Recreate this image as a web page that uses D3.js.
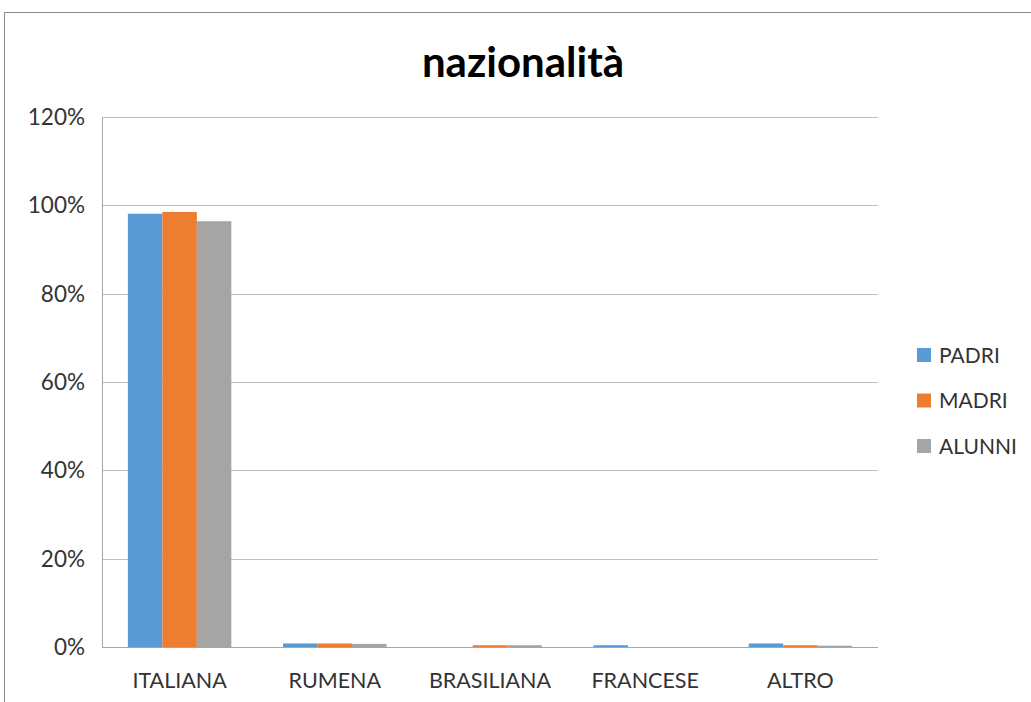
<!DOCTYPE html>
<html><head><meta charset="utf-8">
<script src="https://cdn.jsdelivr.net/npm/d3@7"></script>
<style>body{margin:0;background:#fff;}svg{display:block;}</style>
</head><body>
<svg id="c" width="1031" height="702"></svg>
<script>
const categories = ["ITALIANA","RUMENA","BRASILIANA","FRANCESE","ALTRO"];
const seriesNames = ["PADRI","MADRI","ALUNNI"];
const padri  = [98.1, 0.8, 0.0, 0.4, 0.8];
const madri  = [98.5, 0.8, 0.4, 0.0, 0.4];
const alunni = [96.4, 0.7, 0.4, 0.0, 0.3];
const yTicks = [0,20,40,60,80,100,120];
const colors = ["#5B9BD5","#ED7D31","#A5A5A5"];
const seriesValues = [padri, madri, alunni];
const font = "Lato, 'Open Sans', sans-serif";
const txt = "#333333";

const svg = d3.select("#c");
// outer chart border
svg.append("rect").attr("x",4.5).attr("y",12.5).attr("width",1040).attr("height",700)
  .attr("fill","none").attr("stroke","#8c8c8c").attr("stroke-width",1);

const pLeft=102, pRight=878, pTop=117, pBottom=647;
const x = d3.scaleBand().domain(categories).range([pLeft,pRight]);
const y = d3.scaleLinear().domain([0,120]).range([pBottom,pTop]);
const barW = x.bandwidth()/(3+1.5);
const xs = d3.scaleBand().domain(seriesNames).range([0,barW*3]);

// gridlines
svg.append("g").selectAll("line").data(yTicks).join("line")
  .attr("x1",pLeft).attr("x2",pRight)
  .attr("y1",d=>Math.round(y(d))+0.5).attr("y2",d=>Math.round(y(d))+0.5)
  .attr("stroke",d=>d===0?"#a6a6a6":"#bfbfbf").attr("stroke-width",1);
// left axis line
svg.append("line").attr("x1",pLeft+0.5).attr("x2",pLeft+0.5).attr("y1",pTop).attr("y2",pBottom)
  .attr("stroke","#a6a6a6");

// y labels
svg.append("g").selectAll("text").data(yTicks).join("text")
  .attr("x",pLeft-17).attr("y",d=>y(d)).attr("dy","0.36em")
  .attr("text-anchor","end").attr("font-family",font).attr("font-size",22.5).attr("fill",txt)
  .text(d=>d+"%");

// bars
const g = svg.append("g");
seriesNames.forEach((s,si)=>{
  g.append("g").selectAll("rect").data(categories).join("rect")
    .attr("x",(c)=>x(c)+(x.bandwidth()-barW*3)/2+xs(s))
    .attr("width",xs.bandwidth())
    .attr("y",(c,i)=>y(seriesValues[si][i]))
    .attr("height",(c,i)=>pBottom-y(seriesValues[si][i]))
    .attr("fill",colors[si]);
});

// x labels
svg.append("g").selectAll("text").data(categories).join("text")
  .attr("x",c=>x(c)+x.bandwidth()/2).attr("y",688)
  .attr("text-anchor","middle").attr("font-family",font).attr("font-size",21.5).attr("fill",txt)
  .text(c=>c);

// title
svg.append("text").attr("x",523).attr("y",77).attr("text-anchor","middle")
  .attr("font-family",font).attr("font-weight","bold").attr("font-size",42).attr("fill","#000")
  .text("nazionalità");

// legend
const lg = svg.append("g");
seriesNames.forEach((s,i)=>{
  const ly = 355 + i*45.5;
  lg.append("rect").attr("x",917).attr("y",ly-7).attr("width",14).attr("height",14).attr("fill",colors[i]);
  lg.append("text").attr("x",939).attr("y",ly).attr("dy","0.36em")
    .attr("font-family",font).attr("font-size",21).attr("fill",txt).text(s);
});
</script>
</body></html>
